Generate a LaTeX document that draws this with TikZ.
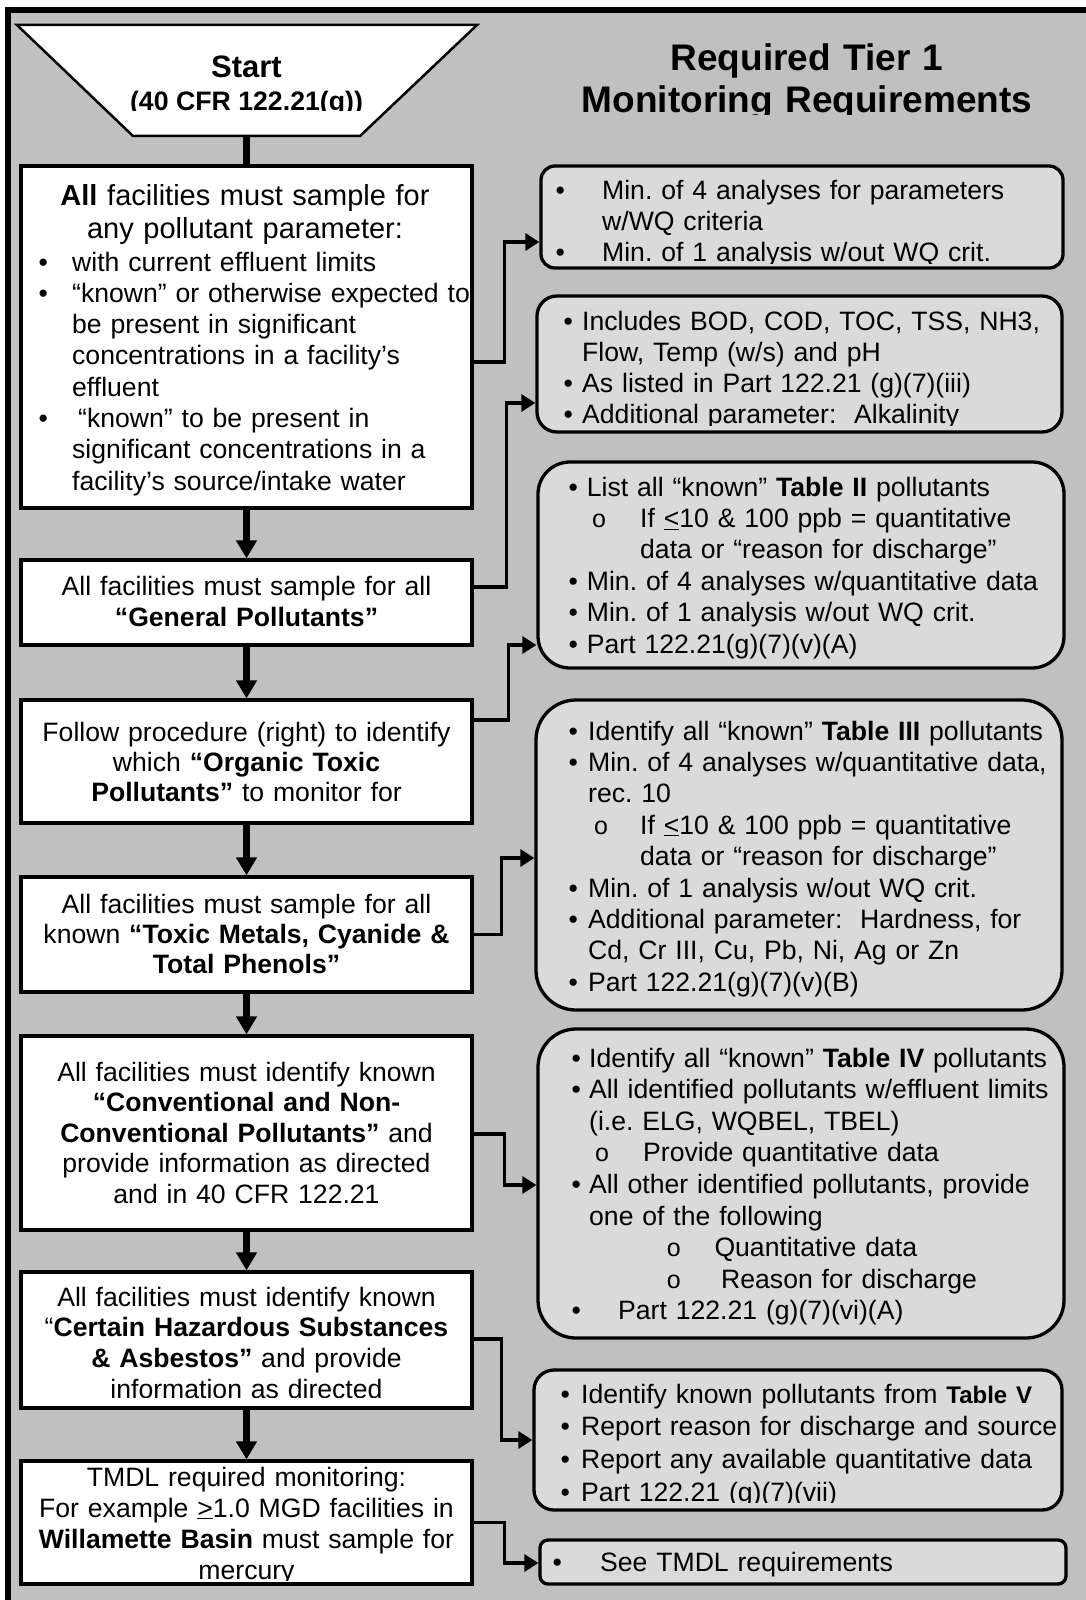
\documentclass[tikz,border=0pt]{standalone}
\usepackage{fontspec}
\setmainfont{Liberation Sans}
\usetikzlibrary{arrows.meta}
\definecolor{panel}{RGB}{192,192,192}
\definecolor{notefill}{RGB}{218,218,218}
\frenchspacing

% bullet at the line start, text after #1 pt
\newcommand\bitm[2]{\makebox[0pt][l]{•}\hspace*{#1pt}#2}
% continuation line indented by #1 pt
\newcommand\ctn[2]{\hspace*{#1pt}#2}
% hollow sub-bullet at #1 pt, text at #2 pt
\newcommand\subo{{\fontsize{25}{25}\selectfont o}}
\newcommand\oitm[3]{\hspace*{#1pt}\makebox[0pt][l]{\subo}\hspace*{\dimexpr#2pt-#1pt\relax}#3}

\begin{document}
\begin{tikzpicture}[x=1pt, y=-1pt,
  lbox/.style={draw, line width=3.3pt, fill=white, inner sep=0pt},
  rbox/.style={draw, line width=3.3pt, fill=notefill, inner sep=0pt},
  ctr/.style={anchor=base, inner sep=0pt, align=center, text width=445pt,
              font=\fontsize{26.6}{#1}\selectfont},
  lft/.style={anchor=base west, inner sep=0pt, align=left, text width=500pt,
              font=\fontsize{26.6}{#1}\selectfont},
  flow/.style={line width=6.5pt, -{Triangle[length=18pt,width=20pt]}},
  side/.style={line width=3.3pt, -{Triangle[length=14pt,width=17pt]}},
]
\useasboundingbox (0,0) rectangle (1086,1600);
\clip (0,0) rectangle (1086,1600);
\fill[white] (0,0) rectangle (1086,1600);
\draw[line width=6pt, fill=panel] (8,10.3) rectangle (1120,1630);

% start terminal
\draw[line width=2.5pt, fill=white] (17,25) -- (477,25) -- (360,136) -- (133,136) -- cycle;
\coordinate (start) at (246.5,136);
\node[anchor=base, inner sep=0pt, font=\bfseries\fontsize{31}{31}\selectfont] (starttitle) at (246.5,78) {Start};
\begin{scope}
  \clip (17,25) rectangle (477,110.5);
  \node[anchor=base, inner sep=0pt, font=\bfseries\fontsize{26.7}{27}\selectfont] (startref) at (246.5,111) {(40 CFR 122.21(g))};
\end{scope}

% heading of the right column
\begin{scope}
  \clip (540,20) rectangle (1080,115);
  \node[anchor=base, inner sep=0pt, align=center, text width=520pt,
        font=\bfseries\fontsize{37}{41.5}\selectfont] (title) at (807,71)
        {Required Tier 1\\Monitoring Requirements};
\end{scope}

% left column: steps
\node[lbox, minimum width=451pt, minimum height=342pt] (b1) at (246.5,337) {};
\node[lbox, minimum width=451pt, minimum height=85pt]  (b2) at (246.5,602.5) {};
\node[lbox, minimum width=451pt, minimum height=123pt] (b3) at (246.5,761.5) {};
\node[lbox, minimum width=451pt, minimum height=115pt] (b4) at (246.5,934.5) {};
\node[lbox, minimum width=451pt, minimum height=194pt] (b5) at (246.5,1133) {};
\node[lbox, minimum width=451pt, minimum height=136pt] (b6) at (246.5,1340) {};
\node[lbox, minimum width=451pt, minimum height=123pt] (b7) at (246.5,1522.5) {};

% right column: requirements
\node[rbox, rounded corners=14pt, minimum width=522pt, minimum height=102pt] (r1) at (802,217) {};
\node[rbox, rounded corners=20pt, minimum width=525pt, minimum height=136pt] (r2) at (799.5,364) {};
\node[rbox, rounded corners=32pt, minimum width=526pt, minimum height=206pt] (r3) at (801,565) {};
\node[rbox, rounded corners=40pt, minimum width=526pt, minimum height=310pt] (r4) at (799,855) {};
\node[rbox, rounded corners=38pt, minimum width=526pt, minimum height=309pt] (r5) at (801,1183.5) {};
\node[rbox, rounded corners=20pt, minimum width=528pt, minimum height=140pt] (r6) at (798,1440) {};
\node[rbox, rounded corners=8pt,  minimum width=526pt, minimum height=44pt]  (r7) at (803,1562) {};

% step texts
\node[ctr=33, font=\fontsize{29}{33}\selectfont] (b1head) at (245,205)
  {\textbf{All} facilities must sample for\\any pollutant parameter:};
\node[lft=31.3] (b1list) at (38.4,271)
  {\bitm{33.6}{with current effluent limits}\\
   \bitm{33.6}{“known” or otherwise expected to}\\
   \ctn{33.6}{be present in significant}\\
   \ctn{33.6}{concentrations in a facility’s}\\
   \ctn{33.6}{effluent}\\
   \bitm{39.6}{“known” to be present in}\\
   \ctn{33.6}{significant concentrations in a}\\
   \ctn{33.6}{facility’s source/intake water}};
\node[ctr=31] (b2t) at (246.5,595)
  {All facilities must sample for all\\\textbf{“General Pollutants”}};
\node[ctr=30] (b3t) at (246.5,741)
  {Follow procedure (right) to identify\\which \textbf{“Organic Toxic}\\\textbf{Pollutants”} to monitor for};
\node[ctr=30] (b4t) at (246.5,913)
  {All facilities must sample for all\\known \textbf{“Toxic Metals, Cyanide \&}\\\textbf{Total Phenols”}};
\node[ctr=30.5] (b5t) at (246.5,1081)
  {All facilities must identify known\\\textbf{“Conventional and Non-}\\\textbf{Conventional Pollutants”} and\\provide information as directed\\and in 40 CFR 122.21};
\begin{scope}
  \clip (21,1272) rectangle (472,1397);
  \node[ctr=30.7] (b6t) at (246.5,1306)
    {All facilities must identify known\\“\textbf{Certain Hazardous Substances}\\\textbf{\& Asbestos”} and provide\\information as directed};
\end{scope}
\begin{scope}
  \clip (21,1461) rectangle (472,1580);
  \node[ctr=31] (b7t) at (246.5,1486)
    {TMDL required monitoring:\\For example \underline{>}1.0 MGD facilities in\\\textbf{Willamette Basin} must sample for\\mercury};
\end{scope}

% requirement texts
\begin{scope}
  \clip (541,166) rectangle (1063,263);
  \node[lft=31] (r1t) at (555.4,199)
    {\bitm{46.6}{Min. of 4 analyses for parameters}\\
     \ctn{46.6}{w/WQ criteria}\\
     \bitm{46.6}{Min. of 1 analysis w/out WQ crit.}};
\end{scope}
\begin{scope}
  \clip (537,296) rectangle (1062,425.5);
  \node[lft=31.3] (r2t) at (563.4,330)
    {\bitm{18.6}{Includes BOD, COD, TOC, TSS, NH3,}\\
     \ctn{18.6}{Flow, Temp (w/s) and pH}\\
     \bitm{18.6}{As listed in Part 122.21 (g)(7)(iii)}\\
     \bitm{18.6}{Additional parameter:\ \ Alkalinity}};
\end{scope}
\node[lft=31.4] (r3t) at (568.5,496)
  {\bitm{18.2}{List all “known” \textbf{Table II} pollutants}\\
   \oitm{23.5}{71.5}{If \underline{<}10 \& 100 ppb = quantitative}\\
   \ctn{71.5}{data or “reason for discharge”}\\
   \bitm{18.2}{Min. of 4 analyses w/quantitative data}\\
   \bitm{18.2}{Min. of 1 analysis w/out WQ crit.}\\
   \bitm{18.2}{Part 122.21(g)(7)(v)(A)}};
\node[lft=31.4] (r4t) at (568.4,740)
  {\bitm{19.6}{Identify all “known” \textbf{Table III} pollutants}\\
   \bitm{19.6}{Min. of 4 analyses w/quantitative data,}\\
   \ctn{19.6}{rec. 10}\\
   \oitm{25.6}{71.6}{If \underline{<}10 \& 100 ppb = quantitative}\\
   \ctn{71.6}{data or “reason for discharge”}\\
   \bitm{19.6}{Min. of 1 analysis w/out WQ crit.}\\
   \bitm{19.6}{Additional parameter:\ \ Hardness, for}\\
   \ctn{19.6}{Cd, Cr III, Cu, Pb, Ni, Ag or Zn}\\
   \bitm{19.6}{Part 122.21(g)(7)(v)(B)}};
\node[lft=31.6] (r5t) at (571.4,1067)
  {\bitm{17.6}{Identify all “known” \textbf{Table IV} pollutants}\\
   \bitm{17.6}{All identified pollutants w/effluent limits}\\
   \ctn{17.6}{(i.e. ELG, WQBEL, TBEL)}\\
   \oitm{23.6}{71.6}{Provide quantitative data}\\
   \bitm{17.6}{All other identified pollutants, provide}\\
   \ctn{17.6}{one of the following}\\
   \oitm{95.2}{142.9}{Quantitative data}\\
   \oitm{95.2}{149.6}{Reason for discharge}\\
   \bitm{46.6}{Part 122.21 (g)(7)(vi)(A)}};
\begin{scope}
  \clip (534,1370) rectangle (1062,1502);
  \node[lft=32.7] (r6t) at (560.4,1403)
    {\bitm{20.6}{Identify known pollutants from {\bfseries\fontsize{24}{24}\selectfont Table V}}\\
     \bitm{20.6}{Report reason for discharge and source}\\
     \bitm{20.6}{Report any available quantitative data}\\
     \bitm{20.6}{Part 122.21 (g)(7)(vii)}};
\end{scope}
\node[lft=30] (r7t) at (552.4,1571) {\bitm{47.6}{See TMDL requirements}};

% main flow
\draw[line width=6.5pt] (start) -- (b1);
\draw[flow] (b1) -- (b2);
\draw[flow] (b2) -- (b3);
\draw[flow] (b3) -- (b4);
\draw[flow] (b4) -- (b5);
\draw[flow] (b5) -- (b6);
\draw[flow] (b6) -- (b7);

% links from steps to requirements
\draw[side] ([yshift=-25pt]b1.east) -- ++(31pt,0pt) |- ([yshift=-25pt]r1.west);
\draw[side] ([yshift=15.5pt]b2.east) -- ++(33pt,0pt) |- ([yshift=-39pt]r2.west);
\draw[side] ([yshift=41.5pt]b3.east) -- ++(35pt,0pt) |- ([yshift=-80pt]r3.west);
\draw[side] (b4.east) -- ++(28pt,0pt) |- ([yshift=-3pt]r4.west);
\draw[side] ([yshift=-1pt]b5.east) -- ++(31pt,0pt) |- ([yshift=-1.5pt]r5.west);
\draw[side] ([yshift=1pt]b6.east) -- ++(28pt,0pt) |- (r6.west);
\draw[side] (b7.east) -- ++(31pt,0pt) |- ([yshift=-1pt]r7.west);
\end{tikzpicture}
\end{document}
